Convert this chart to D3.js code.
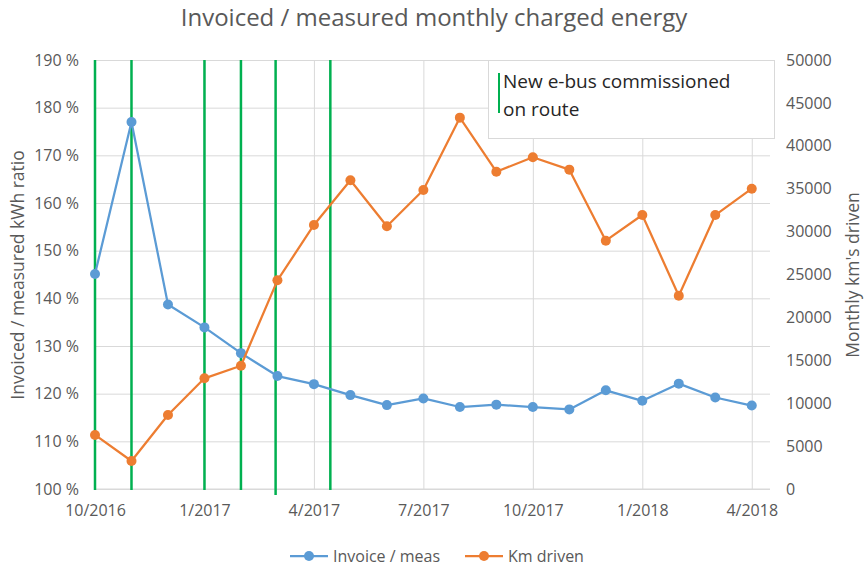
<!DOCTYPE html>
<html>
<head>
<meta charset="utf-8">
<script src="https://cdn.jsdelivr.net/npm/d3@7"></script>
<style>
  body { margin: 0; background: #fff; }
  svg { font-family: 'Open Sans', sans-serif; }
</style>
</head>
<body>
<svg id="chart" width="865" height="567"></svg>
<script>
// Months on the category axis
var months = ['10/2016', '11/2016', '12/2016', '1/2017', '2/2017', '3/2017', '4/2017',
  '5/2017', '6/2017', '7/2017', '8/2017', '9/2017', '10/2017', '11/2017', '12/2017',
  '1/2018', '2/2018', '3/2018', '4/2018'];

// Invoiced / measured kWh ratio (%)
var invoiceRatio = [145.1, 177.0, 138.7, 133.9, 128.5, 123.7, 122.0, 119.7, 117.6, 119.0,
  117.2, 117.7, 117.2, 116.7, 120.7, 118.5, 122.1, 119.2, 117.5];

// Monthly km's driven
var kmDriven = [6300, 3260, 8620, 12900, 14370, 24320, 30770, 35980, 30620, 34850,
  43280, 36980, 38660, 37220, 28940, 31930, 22530, 31930, 35000];

// New e-bus commissioned (month index, fractional)
var commissioned = [0, 1, 3, 4, 4.95, 6.45];

// Axis ticks
var monthTicks = [0, 3, 6, 9, 12, 15, 18];
var ratioTicks = d3.range(100, 191, 10);
var kmTicks = d3.range(0, 50001, 5000);

var svg = d3.select('#chart');
var textColor = '#595959';
var gridColor = '#d9d9d9';
var blue = '#5b9bd5';
var orange = '#ed7d31';
var green = '#00b050';

var x = d3.scaleLinear().domain([0, 18.5]).range([95, 770]);
var yLeft = d3.scaleLinear().domain([100, 190]).range([489, 60]);
var yRight = d3.scaleLinear().domain([0, 50000]).range([489, 60]);

// Title
svg.append('text')
  .attr('x', 434).attr('y', 26)
  .attr('text-anchor', 'middle')
  .attr('font-size', 24)
  .attr('fill', textColor)
  .text('Invoiced / measured monthly charged energy');

// Gridlines
svg.append('g')
  .attr('transform', 'translate(95,0)')
  .call(d3.axisLeft(yLeft).tickValues(ratioTicks).tickSize(-675).tickFormat(''))
  .call(function (g) {
    g.select('.domain').remove();
    g.selectAll('line').attr('stroke', gridColor);
  });
svg.append('g')
  .attr('transform', 'translate(0,60)')
  .call(d3.axisBottom(x).tickValues(monthTicks).tickSize(429).tickFormat(''))
  .call(function (g) {
    g.select('.domain').remove();
    g.selectAll('line').attr('stroke', gridColor);
  });

// Left axis
svg.append('g')
  .attr('transform', 'translate(79,0)')
  .call(d3.axisLeft(yLeft).tickValues(ratioTicks).tickSize(0).tickPadding(0)
    .tickFormat(function (d) { return d + ' %'; }))
  .call(function (g) {
    g.select('.domain').remove();
    g.selectAll('text').attr('font-size', 16).attr('fill', textColor)
      .attr('font-family', 'Open Sans, sans-serif');
  });

// Right axis
svg.append('g')
  .attr('transform', 'translate(786,0)')
  .call(d3.axisRight(yRight).tickValues(kmTicks).tickSize(0).tickPadding(0)
    .tickFormat(d3.format('d')))
  .call(function (g) {
    g.select('.domain').remove();
    g.selectAll('text').attr('font-size', 16).attr('fill', textColor)
      .attr('font-family', 'Open Sans, sans-serif');
  });

// Bottom axis
svg.append('g')
  .attr('transform', 'translate(0,489)')
  .call(d3.axisBottom(x).tickValues(monthTicks).tickSize(0).tickPadding(16)
    .tickFormat(function (i) { return months[i]; }))
  .call(function (g) {
    g.select('.domain').attr('stroke', gridColor).attr('d', 'M95,0H770');
    g.selectAll('text').attr('font-size', 16).attr('fill', textColor)
      .attr('font-family', 'Open Sans, sans-serif');
  });

// Axis titles
svg.append('text')
  .attr('transform', 'translate(24,275) rotate(-90)')
  .attr('text-anchor', 'middle')
  .attr('font-size', 17.5)
  .attr('fill', textColor)
  .text('Invoiced / measured kWh ratio');
svg.append('text')
  .attr('transform', 'translate(859,275) rotate(-90)')
  .attr('text-anchor', 'middle')
  .attr('font-size', 17.5)
  .attr('fill', textColor)
  .text("Monthly km's driven");

// Commissioning lines
svg.append('g').selectAll('line')
  .data(commissioned)
  .join('line')
  .attr('x1', function (d) { return x(d); })
  .attr('x2', function (d) { return x(d); })
  .attr('y1', 60)
  .attr('y2', function (d, i) { return i === 4 ? 495 : 490; })
  .attr('stroke', green)
  .attr('stroke-width', 2.5);

// Series
function drawSeries(values, yScale, color) {
  var line = d3.line()
    .x(function (d, i) { return x(i); })
    .y(function (d) { return yScale(d); });
  svg.append('path')
    .datum(values)
    .attr('d', line)
    .attr('fill', 'none')
    .attr('stroke', color)
    .attr('stroke-width', 2.25)
    .attr('stroke-linejoin', 'round');
  svg.append('g').selectAll('circle')
    .data(values)
    .join('circle')
    .attr('cx', function (d, i) { return x(i); })
    .attr('cy', function (d) { return yScale(d); })
    .attr('r', 5)
    .attr('fill', color);
}
drawSeries(invoiceRatio, yLeft, blue);
drawSeries(kmDriven, yRight, orange);

// Annotation box
var note = svg.append('g');
note.append('rect')
  .attr('x', 488.5).attr('y', 60.5)
  .attr('width', 286).attr('height', 78)
  .attr('fill', '#fff')
  .attr('stroke', gridColor);
note.append('line')
  .attr('x1', 499).attr('x2', 499)
  .attr('y1', 73).attr('y2', 113)
  .attr('stroke', green).attr('stroke-width', 2);
note.append('text')
  .attr('x', 503).attr('y', 88)
  .attr('font-size', 19)
  .attr('fill', '#262626')
  .text('New e-bus commissioned');
note.append('text')
  .attr('x', 503).attr('y', 116)
  .attr('font-size', 19)
  .attr('fill', '#262626')
  .text('on route');

// Legend
var legend = [
  { label: 'Invoice / meas', color: blue, x: 290 },
  { label: 'Km driven', color: orange, x: 465 }
];
var item = svg.append('g').selectAll('g')
  .data(legend)
  .join('g');
item.append('line')
  .attr('x1', function (d) { return d.x; })
  .attr('x2', function (d) { return d.x + 38; })
  .attr('y1', 556).attr('y2', 556)
  .attr('stroke', function (d) { return d.color; })
  .attr('stroke-width', 2.25);
item.append('circle')
  .attr('cx', function (d) { return d.x + 19; })
  .attr('cy', 556)
  .attr('r', 5)
  .attr('fill', function (d) { return d.color; });
item.append('text')
  .attr('x', function (d) { return d.x + 43; })
  .attr('y', 561.5)
  .attr('font-size', 16)
  .attr('fill', textColor)
  .text(function (d) { return d.label; });
</script>
</body>
</html>
